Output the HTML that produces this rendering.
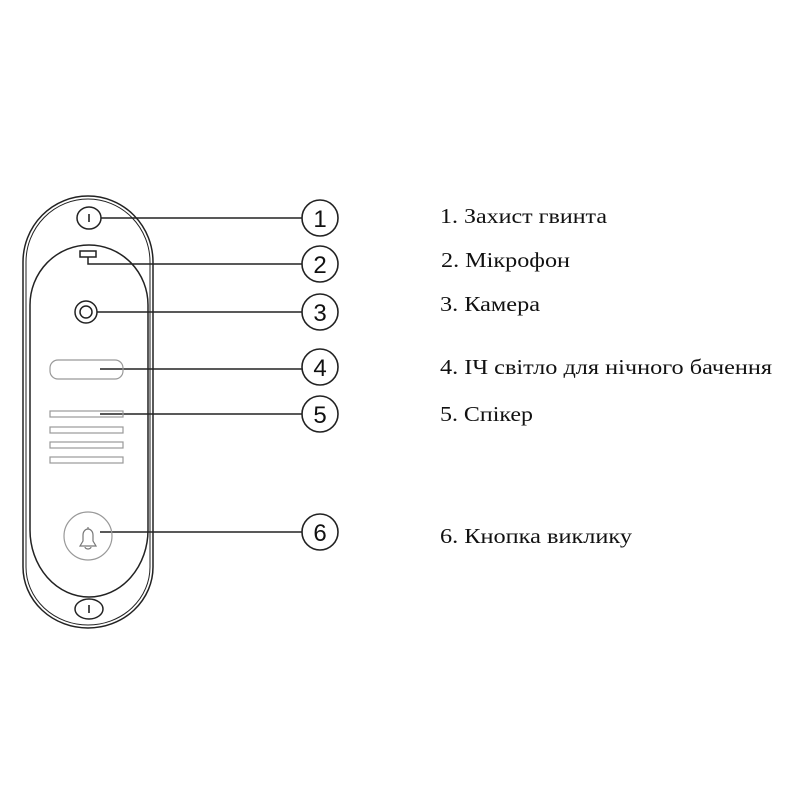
<!DOCTYPE html>
<html><head><meta charset="utf-8"><style>
html,body{margin:0;padding:0;background:#fff;}
svg{display:block}
text{font-family:"Liberation Serif",serif;fill:#111;}
</style></head><body>
<svg width="800" height="800" viewBox="0 0 800 800">
<g fill="none" stroke="#222" stroke-width="1.5">
<path d="M23,262 A65,66 0 0 1 153,262 L153,567 A65,61 0 0 1 23,567 Z"/>
<path d="M26,262 A62,63 0 0 1 150,262 L150,567 A62,58 0 0 1 26,567 Z" stroke-width="1"/>
<path d="M30,305 A59,60 0 0 1 148,305 L148,530 A59,67 0 0 1 30,530 Z"/>
<ellipse cx="89" cy="218" rx="12" ry="11"/>
<ellipse cx="89" cy="609" rx="14" ry="10"/>
<rect x="80" y="251" width="16" height="6"/>
<polyline points="88,257 88,264 302,264"/>
<circle cx="86" cy="312" r="11"/>
<circle cx="86" cy="312" r="6"/>
</g>
<g stroke="#222" stroke-width="1.6">
<line x1="89" y1="214" x2="89" y2="222"/>
<line x1="89" y1="605" x2="89" y2="613"/>
<line x1="101" y1="218" x2="302" y2="218"/>
<line x1="97" y1="312" x2="302" y2="312"/>
<line x1="100" y1="369" x2="302" y2="369"/>
<line x1="100" y1="414" x2="302" y2="414"/>
<line x1="100" y1="532" x2="302" y2="532"/>
</g>
<g fill="none" stroke="#999" stroke-width="1.2">
<rect x="50" y="360" width="73" height="19" rx="8"/>
<rect x="50" y="411" width="73" height="6"/>
<rect x="50" y="427" width="73" height="6"/>
<rect x="50" y="442" width="73" height="6"/>
<rect x="50" y="457" width="73" height="6"/>
<circle cx="88" cy="536" r="24"/>
<path d="M80,546 L83,541 L83,535 A5,6 0 0 1 93,535 L93,541 L96,546 Z" stroke="#777"/>
<path d="M85,547 A3,2 0 0 0 91,547" stroke="#777"/>
<line x1="88" y1="527" x2="88" y2="529" stroke="#777"/>
</g>
<g fill="none" stroke="#222" stroke-width="1.6">
<circle cx="320" cy="218" r="18"/>
<circle cx="320" cy="264" r="18"/>
<circle cx="320" cy="312" r="18"/>
<circle cx="320" cy="367" r="18"/>
<circle cx="320" cy="414" r="18"/>
<circle cx="320" cy="532" r="18"/>
</g>
<g font-size="24" text-anchor="middle">
<text x="320" y="227" style="font-family:'Liberation Sans Narrow','Liberation Sans',sans-serif">1</text>
<text x="320" y="273" style="font-family:'Liberation Sans Narrow','Liberation Sans',sans-serif">2</text>
<text x="320" y="321" style="font-family:'Liberation Sans Narrow','Liberation Sans',sans-serif">3</text>
<text x="320" y="376" style="font-family:'Liberation Sans Narrow','Liberation Sans',sans-serif">4</text>
<text x="320" y="423" style="font-family:'Liberation Sans Narrow','Liberation Sans',sans-serif">5</text>
<text x="320" y="541" style="font-family:'Liberation Sans Narrow','Liberation Sans',sans-serif">6</text>
</g>
<g font-size="21.5">
<text x="440" y="223" textLength="167" lengthAdjust="spacingAndGlyphs">1. Захист гвинта</text>
<text x="441" y="267" textLength="129" lengthAdjust="spacingAndGlyphs">2. Мікрофон</text>
<text x="440" y="311" textLength="100" lengthAdjust="spacingAndGlyphs">3. Камера</text>
<text x="440" y="374" textLength="332" lengthAdjust="spacingAndGlyphs">4. ІЧ світло для нічного бачення</text>
<text x="440" y="421" textLength="93" lengthAdjust="spacingAndGlyphs">5. Спікер</text>
<text x="440" y="543" textLength="192" lengthAdjust="spacingAndGlyphs">6. Кнопка виклику</text>
</g>
</svg>
</body></html>
